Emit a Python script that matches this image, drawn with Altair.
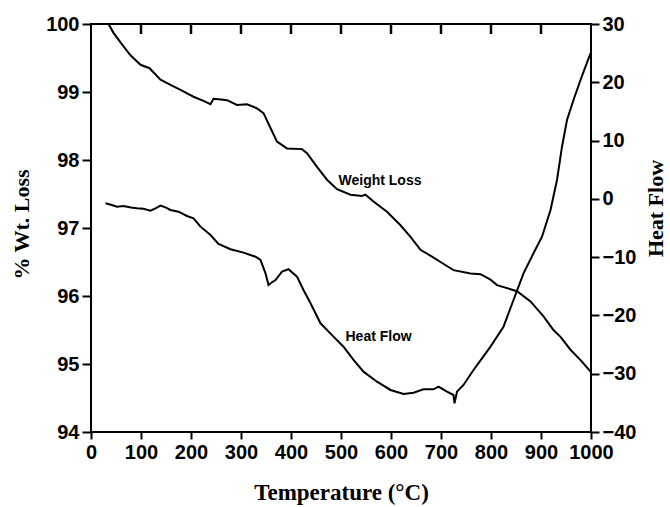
import altair as alt
import pandas as pd

# Weight loss curve (left axis, %)
wt_temp = [35, 45, 62, 79, 99, 117, 139, 160, 179, 205, 225, 239, 245, 260, 272, 292, 312,
           332, 345, 359, 372, 392, 422, 432, 452, 472, 492, 519, 542, 549, 565, 592, 619,
           639, 659, 682, 699, 725, 759, 779, 799, 812, 839, 852, 879, 905, 925, 939, 959,
           980, 1000]
wt_val = [100.0, 99.87, 99.70, 99.54, 99.40, 99.35, 99.18, 99.10, 99.03, 98.93, 98.87, 98.82,
          98.90, 98.89, 98.88, 98.81, 98.82, 98.76, 98.69, 98.47, 98.27, 98.17, 98.16, 98.10,
          97.90, 97.71, 97.57, 97.49, 97.47, 97.49, 97.39, 97.24, 97.04, 96.87, 96.68, 96.58,
          96.50, 96.38, 96.33, 96.32, 96.24, 96.16, 96.10, 96.07, 95.92, 95.70, 95.50, 95.40,
          95.21, 95.05, 94.88]

# Heat flow curve (right axis)
hf_temp = [29, 40, 52, 65, 80, 92, 105, 119, 130, 139, 150, 159, 175, 192, 205, 219, 239, 255,
           279, 305, 329, 339, 349, 355, 362, 369, 382, 395, 412, 425, 439, 459, 485, 505, 525,
           545, 572, 599, 625, 645, 665, 685, 695, 712, 725, 727, 732, 745, 765, 782, 799, 825,
           845, 865, 885, 902, 919, 932, 942, 952, 965, 979, 989, 999]
hf_val = [-0.76, -1.0, -1.34, -1.22, -1.5, -1.62, -1.7, -2.03, -1.6, -1.17, -1.5, -1.91, -2.20,
          -2.94, -3.33, -4.77, -6.20, -7.74, -8.65, -9.23, -9.92, -10.49, -12.77, -14.78, -14.3,
          -13.92, -12.49, -12.08, -13.35, -15.63, -17.92, -21.35, -23.64, -25.36, -27.64, -29.65,
          -31.37, -32.79, -33.48, -33.25, -32.67, -32.67, -32.22, -33.08, -33.65, -35.07, -33.08,
          -31.93, -29.36, -27.36, -25.36, -21.93, -17.35, -12.77, -9.34, -6.49, -1.91, 3.24,
          8.95, 13.53, 16.96, 20.39, 22.68, 24.97]

wt_label = ["Weight Loss"]
wt_label_x = [495]
wt_label_y = [97.69]
hf_label = ["Heat Flow"]
hf_label_x = [509]
hf_label_y = [-23.75]

x_ticks = list(range(0, 1001, 100))
wt_ticks = [94, 95, 96, 97, 98, 99, 100]
hf_ticks = [-40, -30, -20, -10, 0, 10, 20, 30]

wt_df = pd.DataFrame({"T": wt_temp, "W": wt_val})
hf_df = pd.DataFrame({"T": hf_temp, "H": hf_val})
wt_lab_df = pd.DataFrame({"T": wt_label_x, "W": wt_label_y, "t": wt_label})
hf_lab_df = pd.DataFrame({"T": hf_label_x, "H": hf_label_y, "t": hf_label})
top_tick_df = pd.DataFrame({"TT": x_ticks[1:-1]})

LABEL_FONT = "Liberation Sans"
TITLE_FONT = "Liberation Serif"

xscale = alt.Scale(domain=[0, 1000], nice=False, zero=False)
wscale = alt.Scale(domain=[94, 100], nice=False, zero=False)
hscale = alt.Scale(domain=[-40, 30], nice=False, zero=False)

x_bottom = alt.Axis(
    orient="bottom", values=x_ticks, format="d", domain=False, grid=False,
    tickColor="black", tickWidth=2, tickSize=7,
    labelFont=LABEL_FONT, labelFontSize=20, labelFontWeight="bold", labelColor="black",
    labelPadding=3, labelFlush=False,
    title="Temperature (°C)", titleFont=TITLE_FONT, titleFontSize=23, titleFontWeight="bold",
    titleColor="black", titleX=250, titleY=67, titleBaseline="alphabetic", titleAlign="center",
)
y_left = alt.Axis(
    orient="left", values=wt_ticks, format="d", domain=False, grid=False,
    tickColor="black", tickWidth=2, tickSize=9,
    labelFont=LABEL_FONT, labelFontSize=20, labelFontWeight="bold", labelColor="black",
    labelPadding=3,
    title="% Wt. Loss", titleFont=TITLE_FONT, titleFontSize=22, titleFontWeight="bold",
    titleColor="black", titleAngle=270, titleX=-63, titleY=200, titleBaseline="alphabetic",
    titleAlign="center",
)
y_right = alt.Axis(
    orient="right", values=hf_ticks, format="d", domain=False, grid=False,
    tickColor="black", tickWidth=2, tickSize=8,
    labelFont=LABEL_FONT, labelFontSize=20, labelFontWeight="bold", labelColor="black",
    labelPadding=3,
    title="Heat Flow", titleFont=TITLE_FONT, titleFontSize=22, titleFontWeight="bold",
    titleColor="black", titleAngle=270, titleX=71, titleY=184, titleBaseline="alphabetic",
    titleAlign="center",
)

wt_line = alt.Chart(wt_df).mark_line(color="black", strokeWidth=2).encode(
    x=alt.X("T:Q", scale=xscale, axis=x_bottom),
    y=alt.Y("W:Q", scale=wscale, axis=y_left),
)
# inward tick marks along the top edge, placed at the x tick values
top_ticks = alt.Chart(top_tick_df).mark_rule(color="black", strokeWidth=2.5).encode(
    x=alt.X("TT:Q", scale=xscale),
    y=alt.value(1),
    y2=alt.value(10),
)
wt_text = alt.Chart(wt_lab_df).mark_text(
    font=LABEL_FONT, fontSize=14, fontWeight="bold", color="black", align="left", baseline="middle"
).encode(
    x=alt.X("T:Q", scale=xscale),
    y=alt.Y("W:Q", scale=wscale),
    text="t:N",
)
hf_line = alt.Chart(hf_df).mark_line(color="black", strokeWidth=2).encode(
    x=alt.X("T:Q", scale=xscale),
    y=alt.Y("H:Q", scale=hscale, axis=y_right),
)
hf_text = alt.Chart(hf_lab_df).mark_text(
    font=LABEL_FONT, fontSize=14, fontWeight="bold", color="black", align="left", baseline="middle"
).encode(
    x=alt.X("T:Q", scale=xscale),
    y=alt.Y("H:Q", scale=hscale),
    text="t:N",
)

weight_part = alt.layer(top_ticks, wt_line, wt_text)
heat_part = alt.layer(hf_line, hf_text)

chart = alt.layer(weight_part, heat_part).resolve_scale(
    y="independent"
).properties(
    width=500, height=408,
    autosize=alt.AutoSizeParams(type="none"),
    padding={"left": 91, "top": 24, "right": 79, "bottom": 75},
).configure_view(stroke="black", strokeWidth=2)

chart.save("out.html", embed_options={"renderer": "svg", "actions": False})
